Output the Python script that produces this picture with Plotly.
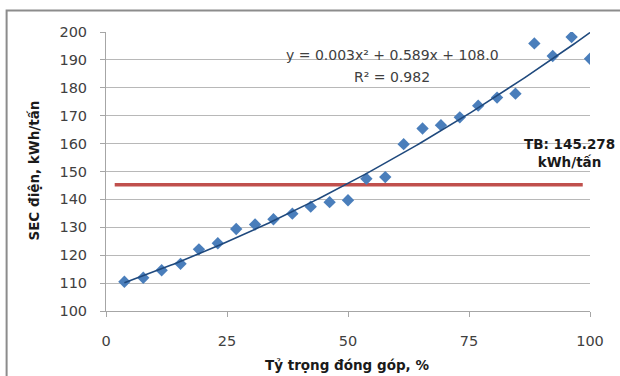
import numpy as np
import plotly.graph_objects as go

# Data
share_pct = [3.8, 7.7, 11.5, 15.4, 19.2, 23.1, 26.9, 30.8, 34.6, 38.5, 42.3, 46.2, 50.0,
             53.8, 57.7, 61.5, 65.4, 69.2, 73.1, 76.9, 80.8, 84.6, 88.5, 92.3, 96.2, 100.0]
sec_kwh = [110.5, 111.9, 114.6, 116.9, 122.1, 124.3, 129.4, 131.0, 132.9, 134.9, 137.4, 139.0, 139.7,
           147.4, 148.0, 159.8, 165.4, 166.6, 169.4, 173.6, 176.5, 177.9, 195.9, 191.4, 198.2, 190.4]
avg_value = 145.278
avg_x = [1.8, 98.5]
x_ticks = [0, 25, 50, 75, 100]
y_ticks = [100, 110, 120, 130, 140, 150, 160, 170, 180, 190, 200]
x_title = "Tỷ trọng đóng góp, %"
y_title = "SEC điện, kWh/tấn"
eq_text = "y = 0.003x² + 0.589x + 108.0"
r2_text = "R² = 0.982"
avg_label = "TB: 145.278<br>kWh/tấn"

FONT = "DejaVu Sans"
TXT = "#404040"

# polynomial trend (order 2) fitted to the data
coef = np.polyfit(share_pct, sec_kwh, 2)
xt = np.linspace(share_pct[0], share_pct[-1], 200)
yt = np.polyval(coef, xt)

fig = go.Figure()
fig.add_trace(go.Scatter(x=avg_x, y=[avg_value, avg_value], mode="lines",
                         line=dict(color="#c0504d", width=3.5), hoverinfo="skip"))
fig.add_trace(go.Scatter(x=share_pct, y=sec_kwh, mode="markers",
                         marker=dict(symbol="diamond", size=9.5, color="#4a7ebb",
                                     line=dict(width=0))))
fig.add_trace(go.Scatter(x=xt, y=yt, mode="lines",
                         line=dict(color="#1f497d", width=1.6), hoverinfo="skip"))

# positions of the plot area in pixels
L, R, T, B = 105.5, 590, 32, 311
W, H = 620, 376

def px(xp):
    return (xp - L) / (R - L)

def py(yp):
    return (B - yp) / (B - T)

fig.update_layout(
    width=W, height=H,
    margin=dict(l=L, r=W - R, t=T, b=H - B, autoexpand=False),
    paper_bgcolor="white", plot_bgcolor="white",
    showlegend=False,
    font=dict(family=FONT, size=14, color=TXT),
    xaxis=dict(range=[0, 100], tickvals=x_ticks, showgrid=False, zeroline=False,
               showline=True, linecolor="#a6a6a6", linewidth=1, automargin=False,
               ticks="outside", ticklen=5, tickcolor="#a6a6a6",
               ticklabelstandoff=12,
               tickfont=dict(family=FONT, size=14.5, color=TXT)),
    yaxis=dict(range=[100, 200], tickvals=y_ticks, showgrid=True, gridcolor="#b8b8b8",
               gridwidth=1, zeroline=False, automargin=False,
               showline=True, linecolor="#a6a6a6", linewidth=1,
               ticks="outside", ticklen=5, tickcolor="#a6a6a6",
               ticklabelstandoff=10,
               tickfont=dict(family=FONT, size=14.5, color=TXT)),
)

# axis titles
fig.add_annotation(xref="paper", yref="paper", x=px(347), y=py(365),
                   text="<b>" + x_title + "</b>", showarrow=False,
                   font=dict(family=FONT, size=13.5, color="#1a1a1a"),
                   xanchor="center", yanchor="middle")
fig.add_annotation(xref="paper", yref="paper", x=px(33), y=py(171),
                   text="<b>" + y_title + "</b>", showarrow=False, textangle=-90,
                   font=dict(family=FONT, size=13.5, color="#1a1a1a"),
                   xanchor="center", yanchor="middle")

fig.add_annotation(xref="paper", yref="paper", x=px(392), y=py(55),
                   text=eq_text, showarrow=False,
                   font=dict(family=FONT, size=14, color=TXT), xanchor="center", yanchor="middle")
fig.add_annotation(xref="paper", yref="paper", x=px(392), y=py(77),
                   text=r2_text, showarrow=False,
                   font=dict(family=FONT, size=14, color=TXT), xanchor="center", yanchor="middle")
fig.add_annotation(xref="paper", yref="paper", x=px(569), y=py(153),
                   text="<b>" + avg_label + "</b>", showarrow=False, align="center",
                   font=dict(family=FONT, size=13.5, color="#1a1a1a"), xanchor="center", yanchor="middle")

# outer chart frame
fig.add_shape(type="rect", xref="paper", yref="paper",
              x0=px(6), x1=px(640), y0=py(400), y1=py(10.5),
              line=dict(color="#8c8c8c", width=2), fillcolor="rgba(0,0,0,0)", layer="below")

fig.write_html("out.html", config={"displayModeBar": False},
               post_script="document.body.style.margin='0px';document.body.style.overflow='hidden';")
